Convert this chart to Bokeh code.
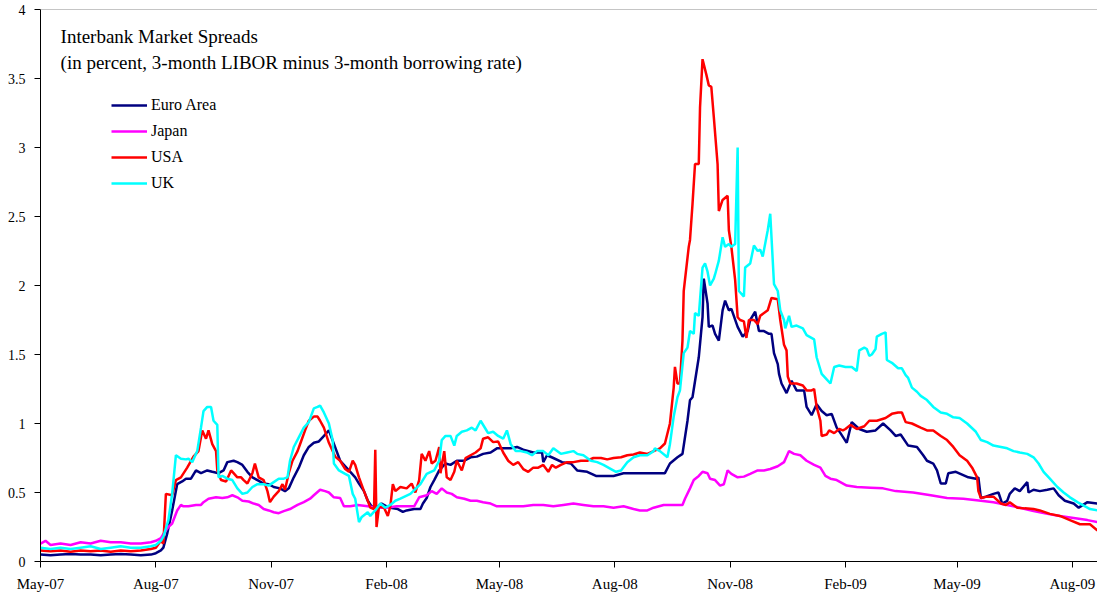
import pandas as pd
from bokeh.plotting import figure
from bokeh.models import Range1d, FixedTicker, NumeralTickFormatter, DatetimeTickFormatter, Span, Label
from bokeh.embed import file_html
from bokeh.resources import INLINE

# ---------------- data (day offsets from START, spread in percent) ----------------
START = "2007-05-01"

euro_day = [0, 8, 16, 24, 32, 40, 48, 56, 64, 72, 80, 88, 92, 96, 98, 101, 105, 109, 113, 116, 120, 124, 128, 133, 137,
            142, 146, 149, 154, 157, 161, 165, 169, 173, 178, 182, 186, 191, 195, 198, 202, 206, 210, 214, 218, 222, 225,
            229, 230, 239, 246, 251, 254, 258, 261, 264, 268, 272, 276, 279, 285, 289, 292, 298, 303, 305, 308, 311, 314,
            318, 323, 327, 332, 338, 343, 348, 353, 359, 364, 369, 375, 380, 385, 393, 400, 401, 404, 409, 416, 423, 428,
            436, 443, 449, 457, 465, 476, 484, 494, 498, 502, 508, 512, 516, 518, 520, 525, 528, 529, 532, 533, 536, 538,
            541, 544, 546, 549, 551, 556, 560, 564, 566, 570, 573, 577, 581, 583, 585, 588, 589, 591, 595, 599, 603, 609,
            611, 615, 619, 623, 627, 631, 635, 638, 643, 647, 653, 659, 666, 672, 678, 682, 686, 692, 699, 704, 707, 712,
            715, 718, 722, 724, 730, 735, 740, 746, 748, 750, 754, 760, 764, 767, 771, 773, 777, 781, 787, 788, 792, 797,
            803, 808, 812, 817, 824, 828, 835, 843]
euro_val = [0.05, 0.045, 0.05, 0.055, 0.05, 0.05, 0.045, 0.05, 0.055, 0.05, 0.045, 0.05, 0.06, 0.08, 0.10, 0.20, 0.37,
            0.56, 0.58, 0.60, 0.60, 0.66, 0.64, 0.66, 0.65, 0.64, 0.66, 0.72, 0.73, 0.72, 0.70, 0.65, 0.61, 0.59, 0.565,
            0.56, 0.54, 0.53, 0.51, 0.53, 0.61, 0.68, 0.77, 0.83, 0.86, 0.87, 0.90, 0.94, 0.95, 0.73, 0.66, 0.61, 0.565,
            0.51, 0.44, 0.40, 0.39, 0.42, 0.40, 0.39, 0.38, 0.36, 0.37, 0.38, 0.38, 0.42, 0.46, 0.54, 0.59, 0.66, 0.71,
            0.70, 0.73, 0.73, 0.755, 0.76, 0.78, 0.79, 0.82, 0.82, 0.82, 0.83, 0.81, 0.79, 0.79, 0.72, 0.77, 0.75, 0.72,
            0.71, 0.66, 0.65, 0.62, 0.62, 0.62, 0.64, 0.64, 0.64, 0.64, 0.64, 0.71, 0.755, 0.78, 1.02, 1.17, 1.19, 1.48,
            1.77, 2.05, 1.87, 1.70, 1.71, 1.65, 1.60, 1.82, 1.89, 1.82, 1.83, 1.70, 1.63, 1.67, 1.75, 1.81, 1.67, 1.67,
            1.65, 1.65, 1.51, 1.43, 1.36, 1.29, 1.22, 1.31, 1.24, 1.24, 1.12, 1.06, 1.14, 1.09, 1.06, 1.07, 0.97, 0.93,
            0.86, 1.01, 0.96, 0.94, 0.95, 1.00, 0.95, 0.91, 0.92, 0.84, 0.83, 0.77, 0.73, 0.71, 0.66, 0.565, 0.565, 0.64,
            0.65, 0.63, 0.61, 0.60, 0.61, 0.46, 0.47, 0.49, 0.50, 0.42, 0.44, 0.49, 0.53, 0.51, 0.575, 0.50, 0.52, 0.51,
            0.52, 0.53, 0.48, 0.44, 0.42, 0.39, 0.43, 0.42]

japan_day = [0, 4, 8, 16, 24, 32, 40, 48, 56, 64, 72, 80, 88, 92, 96, 98, 102, 105, 109, 112, 114, 118, 124, 128, 130,
             134, 140, 145, 149, 153, 157, 161, 166, 170, 174, 178, 182, 186, 190, 194, 199, 205, 210, 215, 218, 223, 227,
             230, 234, 239, 242, 247, 253, 261, 268, 276, 284, 290, 298, 302, 308, 312, 316, 320, 324, 328, 332, 338, 343,
             348, 353, 359, 364, 369, 377, 385, 393, 401, 409, 417, 425, 433, 441, 449, 457, 465, 473, 478, 484, 489, 497,
             502, 505, 512, 514, 518, 521, 525, 528, 532, 534, 538, 542, 545, 548, 551, 556, 561, 566, 572, 577, 582, 588,
             593, 597, 601, 606, 611, 617, 622, 626, 630, 635, 643, 651, 662, 672, 682, 696, 710, 723, 736, 750, 760, 771,
             781, 792, 803, 813, 824, 835, 843]
japan_val = [0.13, 0.15, 0.12, 0.13, 0.12, 0.14, 0.13, 0.15, 0.14, 0.14, 0.13, 0.13, 0.14, 0.15, 0.17, 0.20, 0.25, 0.275,
             0.37, 0.41, 0.40, 0.40, 0.41, 0.41, 0.43, 0.455, 0.465, 0.46, 0.465, 0.48, 0.465, 0.44, 0.435, 0.42, 0.41,
             0.38, 0.37, 0.357, 0.35, 0.365, 0.38, 0.41, 0.43, 0.455, 0.48, 0.52, 0.51, 0.50, 0.465, 0.46, 0.40, 0.40,
             0.41, 0.40, 0.39, 0.39, 0.40, 0.40, 0.40, 0.465, 0.48, 0.51, 0.49, 0.53, 0.50, 0.49, 0.465, 0.455, 0.44, 0.44,
             0.43, 0.42, 0.40, 0.40, 0.40, 0.40, 0.41, 0.41, 0.40, 0.41, 0.42, 0.41, 0.40, 0.40, 0.39, 0.40, 0.38, 0.37,
             0.37, 0.39, 0.41, 0.41, 0.41, 0.41, 0.455, 0.53, 0.59, 0.62, 0.65, 0.64, 0.60, 0.59, 0.55, 0.56, 0.66, 0.635,
             0.61, 0.615, 0.635, 0.66, 0.66, 0.67, 0.69, 0.72, 0.80, 0.78, 0.77, 0.73, 0.70, 0.68, 0.62, 0.60, 0.59, 0.55,
             0.54, 0.535, 0.53, 0.51, 0.50, 0.48, 0.46, 0.455, 0.44, 0.43, 0.41, 0.39, 0.365, 0.345, 0.33, 0.315, 0.30,
             0.285]

usa_day = [0, 8, 16, 24, 32, 40, 48, 56, 64, 72, 80, 88, 92, 96, 98, 100, 105, 108, 112, 117, 122, 126, 129, 132, 134,
           137, 140, 141, 144, 148, 152, 154, 157, 160, 162, 165, 169, 171, 174, 178, 181, 183, 186, 190, 193, 195, 198,
           201, 205, 207, 211, 214, 218, 221, 223, 226, 230, 233, 235, 239, 243, 246, 249, 251, 254, 258, 261, 263, 266,
           267, 268, 270, 274, 277, 279, 281, 283, 287, 292, 296, 299, 302, 304, 307, 310, 312, 315, 318, 319, 322, 324,
           327, 330, 332, 336, 339, 343, 347, 351, 353, 357, 361, 365, 369, 373, 377, 381, 385, 389, 393, 397, 401, 405,
           408, 411, 415, 420, 425, 431, 436, 441, 447, 452, 457, 463, 468, 473, 478, 484, 489, 494, 498, 502, 505, 506,
           508, 510, 512, 513, 514, 517, 518, 520, 522, 525, 526, 528, 531, 533, 535, 537, 540, 541, 544, 548, 549, 551,
           554, 556, 558, 561, 563, 565, 569, 572, 574, 580, 583, 588, 590, 593, 595, 596, 598, 603, 608, 611, 615, 617,
           619, 622, 623, 627, 629, 633, 637, 640, 642, 646, 651, 657, 661, 667, 674, 679, 684, 687, 690, 695, 702, 707,
           712, 718, 723, 728, 733, 739, 743, 747, 748, 750, 755, 760, 766, 770, 773, 779, 785, 792, 797, 805, 813, 821,
           829, 837, 843]
usa_val = [0.08, 0.075, 0.08, 0.07, 0.08, 0.075, 0.08, 0.07, 0.08, 0.075, 0.08, 0.09, 0.10, 0.15, 0.13, 0.49, 0.48, 0.59,
           0.61, 0.68, 0.76, 0.80, 0.95, 0.89, 0.95, 0.85, 0.80, 0.66, 0.59, 0.58, 0.66, 0.64, 0.61, 0.61, 0.59, 0.565,
           0.64, 0.71, 0.61, 0.59, 0.51, 0.43, 0.47, 0.51, 0.56, 0.52, 0.64, 0.73, 0.80, 0.85, 0.95, 1.02, 1.05, 1.05,
           1.02, 0.97, 0.86, 0.80, 0.76, 0.73, 0.67, 0.65, 0.73, 0.70, 0.61, 0.51, 0.44, 0.39, 0.38, 0.81, 0.25, 0.40,
           0.39, 0.33, 0.40, 0.56, 0.51, 0.54, 0.53, 0.565, 0.50, 0.59, 0.78, 0.73, 0.80, 0.71, 0.73, 0.83, 0.64, 0.80,
           0.61, 0.59, 0.65, 0.73, 0.66, 0.75, 0.77, 0.79, 0.82, 0.89, 0.90, 0.865, 0.87, 0.79, 0.73, 0.70, 0.72, 0.67,
           0.65, 0.68, 0.68, 0.70, 0.65, 0.70, 0.68, 0.70, 0.72, 0.72, 0.73, 0.73, 0.75, 0.75, 0.74, 0.75, 0.755, 0.77,
           0.775, 0.79, 0.78, 0.80, 0.82, 0.855, 1.00, 1.26, 1.41, 1.29, 1.29, 1.60, 1.96, 2.04, 2.28, 2.33, 2.59, 2.88,
           2.88, 3.29, 3.64, 3.53, 3.45, 3.44, 3.22, 2.88, 2.54, 2.62, 2.65, 2.40, 2.28, 2.04, 1.77, 1.75, 1.74, 1.62,
           1.75, 1.75, 1.72, 1.78, 1.82, 1.91, 1.90, 1.75, 1.57, 1.53, 1.34, 1.29, 1.29, 1.275, 1.24, 1.24, 1.25, 1.12,
           1.02, 0.91, 0.92, 0.95, 0.93, 0.96, 0.95, 0.96, 0.99, 0.96, 0.98, 1.02, 1.02, 1.04, 1.07, 1.08, 1.08, 1.01,
           1.00, 0.97, 0.95, 0.95, 0.91, 0.88, 0.83, 0.77, 0.73, 0.68, 0.61, 0.51, 0.46, 0.47, 0.47, 0.42, 0.41, 0.43,
           0.39, 0.385, 0.38, 0.37, 0.345, 0.33, 0.30, 0.27, 0.27, 0.225]

uk_day = [0, 8, 16, 24, 32, 40, 48, 56, 64, 72, 80, 88, 92, 96, 98, 102, 105, 108, 112, 116, 118, 121, 125, 128, 130,
          133, 136, 138, 141, 142, 145, 149, 153, 157, 161, 165, 169, 173, 178, 182, 186, 190, 194, 197, 199, 202, 206,
          210, 214, 218, 221, 223, 226, 230, 233, 234, 238, 243, 246, 249, 251, 254, 256, 261, 263, 267, 271, 275, 279,
          283, 287, 295, 303, 308, 314, 318, 320, 323, 327, 330, 332, 336, 340, 344, 347, 351, 355, 357, 361, 365, 369,
          372, 375, 379, 383, 388, 392, 396, 401, 405, 409, 415, 420, 425, 428, 433, 439, 444, 449, 455, 459, 463, 468,
          473, 478, 484, 489, 490, 494, 500, 502, 505, 508, 510, 513, 516, 518, 521, 522, 525, 528, 530, 532, 534, 537,
          538, 541, 544, 546, 549, 551, 554, 556, 557, 561, 562, 566, 569, 572, 574, 576, 580, 582, 585, 588, 590, 593,
          594, 597, 599, 603, 608, 611, 617, 619, 623, 627, 630, 633, 637, 642, 647, 651, 653, 657, 659, 661, 663, 666,
          667, 671, 674, 675, 679, 684, 687, 690, 692, 695, 699, 702, 707, 712, 718, 723, 728, 733, 739, 746, 750, 755,
          760, 766, 771, 776, 781, 787, 792, 796, 800, 805, 811, 816, 821, 827, 832, 837, 843]
uk_val = [0.10, 0.09, 0.10, 0.09, 0.10, 0.11, 0.09, 0.10, 0.11, 0.10, 0.10, 0.11, 0.12, 0.15, 0.18, 0.30, 0.49, 0.77,
          0.745, 0.74, 0.745, 0.72, 0.80, 0.97, 1.09, 1.12, 1.12, 1.02, 0.99, 0.61, 0.62, 0.60, 0.59, 0.53, 0.49, 0.50,
          0.54, 0.56, 0.56, 0.55, 0.575, 0.60, 0.60, 0.61, 0.73, 0.83, 0.90, 0.97, 1.01, 1.11, 1.12, 1.13, 1.08, 1.00,
          0.88, 0.71, 0.66, 0.635, 0.62, 0.49, 0.455, 0.285, 0.32, 0.357, 0.33, 0.37, 0.42, 0.39, 0.41, 0.44, 0.455,
          0.49, 0.56, 0.635, 0.66, 0.73, 0.88, 0.91, 0.91, 0.84, 0.91, 0.94, 0.95, 0.97, 0.95, 1.02, 0.96, 0.93, 0.94,
          0.91, 0.89, 0.95, 0.85, 0.80, 0.80, 0.79, 0.77, 0.80, 0.80, 0.77, 0.82, 0.78, 0.79, 0.80, 0.78, 0.77, 0.73,
          0.72, 0.70, 0.67, 0.65, 0.66, 0.72, 0.755, 0.77, 0.77, 0.80, 0.82, 0.80, 0.755, 0.85, 1.05, 1.19, 1.24, 1.51,
          1.55, 1.67, 1.65, 1.80, 1.78, 2.13, 2.16, 2.10, 2.00, 2.05, 2.08, 2.18, 2.35, 2.28, 2.30, 2.28, 2.30, 3.00,
          1.96, 1.92, 2.13, 2.16, 2.29, 2.25, 2.26, 2.21, 2.40, 2.52, 2.01, 1.96, 1.82, 1.75, 1.69, 1.78, 1.70, 1.71,
          1.69, 1.64, 1.61, 1.48, 1.36, 1.32, 1.29, 1.41, 1.42, 1.41, 1.41, 1.38, 1.53, 1.55, 1.54, 1.49, 1.50, 1.54,
          1.63, 1.65, 1.66, 1.46, 1.44, 1.40, 1.40, 1.35, 1.33, 1.26, 1.23, 1.20, 1.17, 1.12, 1.08, 1.07, 1.045, 1.04,
          1.00, 0.94, 0.88, 0.865, 0.84, 0.83, 0.82, 0.80, 0.79, 0.78, 0.755, 0.71, 0.65, 0.60, 0.54, 0.50, 0.465, 0.43,
          0.405, 0.38, 0.37]

series_names = ["Euro Area", "Japan", "USA", "UK"]
series_colors = ["#000080", "#FF00FF", "#FF0000", "#00FFFF"]

xtick_dates = ["2007-05-01", "2007-08-01", "2007-11-01", "2008-02-01", "2008-05-01",
               "2008-08-01", "2008-11-01", "2009-02-01", "2009-05-01", "2009-08-01"]
xtick_labels = ["May-07", "Aug-07", "Nov-07", "Feb-08", "May-08",
                "Aug-08", "Nov-08", "Feb-09", "May-09", "Aug-09"]
ytick_values = [0, 0.5, 1, 1.5, 2, 2.5, 3, 3.5, 4]

title_line1 = "Interbank Market Spreads"
title_line2 = "(in percent, 3-month LIBOR minus 3-month borrowing rate)"

# ---------------- figure ----------------
FONT = "Liberation Serif"
base = pd.Timestamp(START)


def to_dates(days):
    return base + pd.to_timedelta(days, unit="D")


def to_ms(ts):
    return pd.Timestamp(ts).value / 1e6


p = figure(width=1097, height=599, x_axis_type="datetime", output_backend="svg",
           toolbar_location=None, min_border_left=40, min_border_right=0,
           min_border_top=9, min_border_bottom=38)
p.x_range = Range1d(start=to_ms(base), end=to_ms(base + pd.Timedelta(days=843)))
p.y_range = Range1d(start=0, end=4)
p.outline_line_color = None
p.grid.visible = False
p.background_fill_color = "white"
p.border_fill_color = "white"

all_days = [euro_day, japan_day, usa_day, uk_day]
all_vals = [euro_val, japan_val, usa_val, uk_val]
for d, v, name, col in zip(all_days, all_vals, series_names, series_colors):
    p.line(to_dates(d), v, line_color=col, line_width=2.5, legend_label=name)

# top border line at y = 4
p.add_layout(Span(location=4, dimension="width", line_color="#8c8c8c", line_width=1))

# x axis
xa = p.xaxis[0]
xa.ticker = FixedTicker(ticks=[to_ms(d) for d in xtick_dates], minor_ticks=[])
xa.formatter = DatetimeTickFormatter(days="%b-%y", months="%b-%y", years="%b-%y")
xa.major_label_overrides = {to_ms(d): lab for d, lab in zip(xtick_dates, xtick_labels)}
xa.major_tick_in = 0
xa.major_tick_out = 6
xa.minor_tick_line_color = None
xa.axis_line_color = "black"
xa.major_tick_line_color = "black"
xa.major_label_text_font = FONT
xa.major_label_text_font_size = "15px"
xa.major_label_text_color = "black"
xa.major_label_standoff = 8

# y axis
ya = p.yaxis[0]
ya.ticker = FixedTicker(ticks=ytick_values, minor_ticks=[])
ya.formatter = NumeralTickFormatter(format="0.[0]")
ya.major_tick_in = 0
ya.major_tick_out = 6
ya.minor_tick_line_color = None
ya.axis_line_color = "black"
ya.major_tick_line_color = "black"
ya.major_label_text_font = FONT
ya.major_label_text_font_size = "14px"
ya.major_label_text_color = "black"
ya.major_label_standoff = 9

# title texts
title_x = to_ms(base + pd.Timedelta(days=16))
p.add_layout(Label(x=title_x, y=3.804, text=title_line1, text_font=FONT,
                   text_font_size="19px", text_color="black", text_baseline="alphabetic"))
p.add_layout(Label(x=title_x, y=3.614, text=title_line2, text_font=FONT,
                   text_font_size="19px", text_color="black", text_baseline="alphabetic"))

# legend
lg = p.legend[0]
lg.location = (71, 368)
lg.border_line_color = None
lg.background_fill_alpha = 0
lg.padding = 0
lg.margin = 0
lg.spacing = 6
lg.glyph_width = 36
lg.glyph_height = 20
lg.label_height = 20
lg.label_standoff = 4
lg.label_text_font = FONT
lg.label_text_font_size = "16px"
lg.label_text_color = "black"

open("out.html", "w").write(file_html(p, INLINE))
